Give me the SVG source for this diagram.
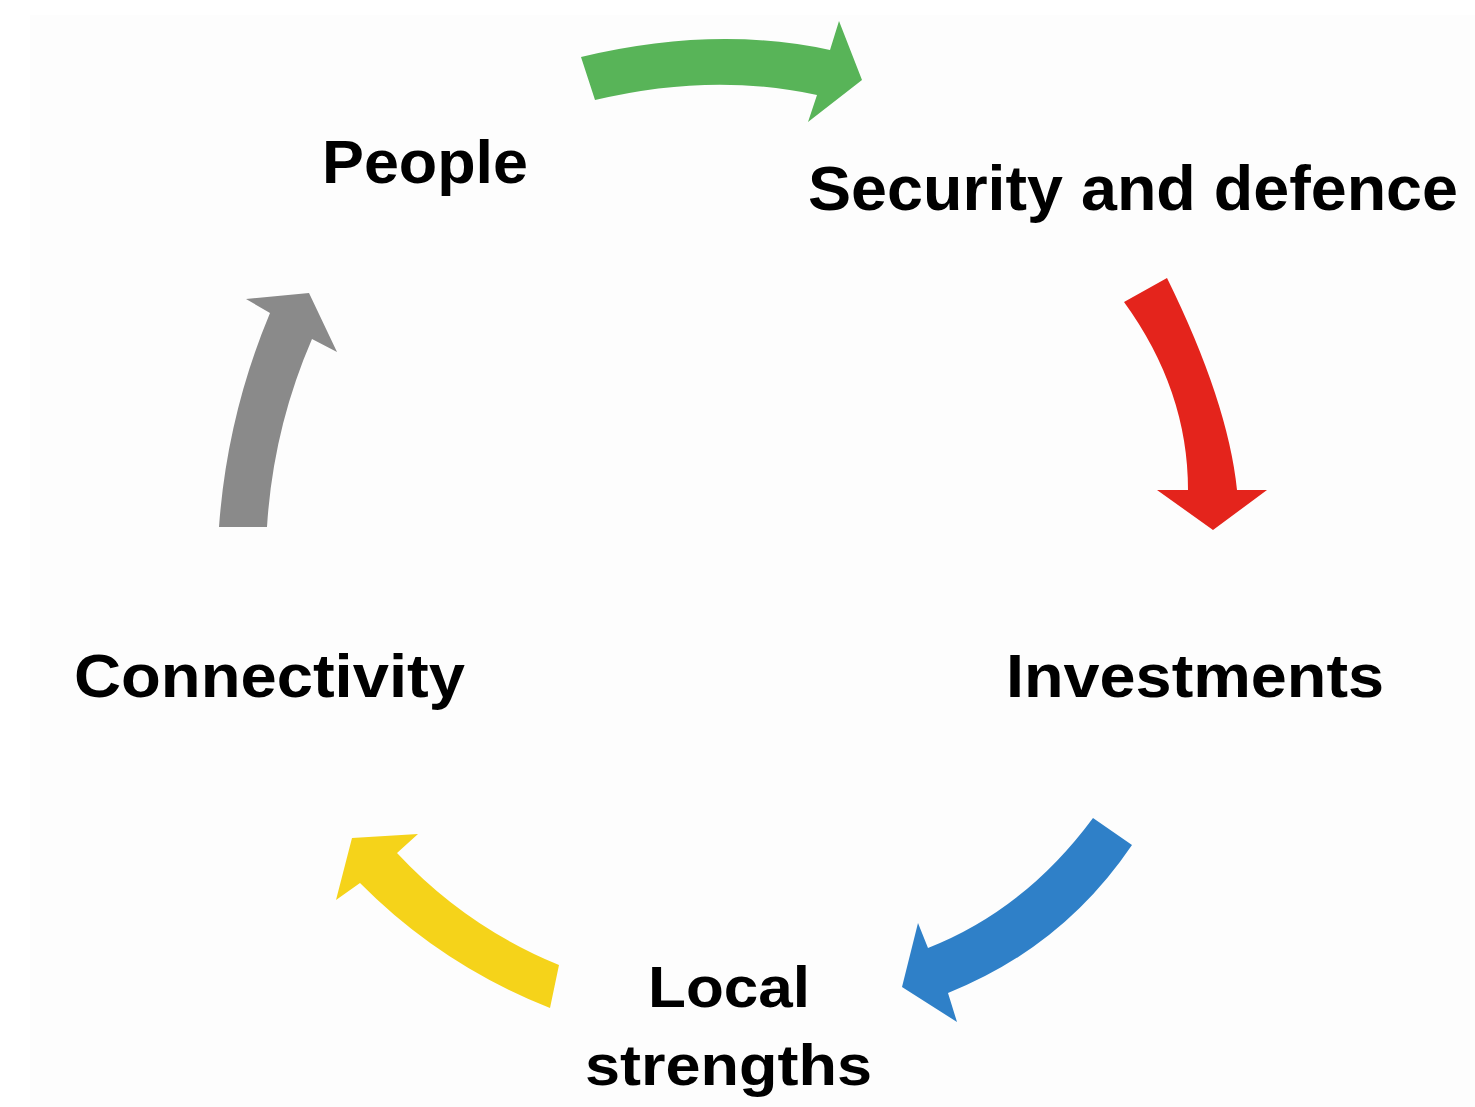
<svg xmlns="http://www.w3.org/2000/svg" width="1475" height="1107" viewBox="0 0 1475 1107">
  <style>
    .lbl { font-family: "Liberation Sans", Arial, sans-serif; font-weight: 700; fill: #000000; }
    .big { font-size: 62px; }
    .mid { font-size: 58px; }
    .sec { font-size: 63px; }
  </style>
  <rect x="0" y="0" width="1475" height="1107" fill="#ffffff"/>
  <rect x="30" y="15" width="1445" height="1092" fill="#fdfdfd"/>
  <g id="connectors">
    <path id="arrow-people-security" d="M581,57 Q715,25 830,50 L839,21 L862,80 L808,122 L817,95 Q712,72 595,100 Z" fill="#58b458"/>
    <path id="arrow-security-investments" d="M1124,302 Q1188,390 1188,490 L1157,490 L1213,530 L1267,490 L1237,490 Q1228,402 1167,278 Z" fill="#e4241c"/>
    <path id="arrow-investments-local" d="M1093,818 L1132,845 Q1063,947 948,993 L957,1022 L902,987 L918,923 L928,948 Q1025,910 1093,818 Z" fill="#2f80c8"/>
    <path id="arrow-local-connectivity" d="M550,1008 L559,965 Q466,927 397,853 L418,834 L352,838 L336,900 L360,883 Q441,965 550,1008 Z" fill="#f5d31a"/>
    <path id="arrow-connectivity-people" d="M219,527 Q227,416 270,313 L246,299 L309,293 L337,352 L312,339 Q273,429 267,527 Z" fill="#8a8a8a"/>
  </g>
  <g id="node-people">
    <text class="lbl big" x="322" y="183" textLength="206" lengthAdjust="spacingAndGlyphs">People</text>
  </g>
  <g id="node-security">
    <text class="lbl sec" x="808" y="210" textLength="650" lengthAdjust="spacingAndGlyphs">Security and defence</text>
  </g>
  <g id="node-investments">
    <text class="lbl big" x="1006" y="697" textLength="378" lengthAdjust="spacingAndGlyphs">Investments</text>
  </g>
  <g id="node-local">
    <text class="lbl mid" x="648" y="1007" textLength="162" lengthAdjust="spacingAndGlyphs">Local</text>
    <text class="lbl mid" x="585" y="1085" textLength="287" lengthAdjust="spacingAndGlyphs">strengths</text>
  </g>
  <g id="node-connectivity">
    <text class="lbl big" x="74" y="697" textLength="391" lengthAdjust="spacingAndGlyphs">Connectivity</text>
  </g>
</svg>
